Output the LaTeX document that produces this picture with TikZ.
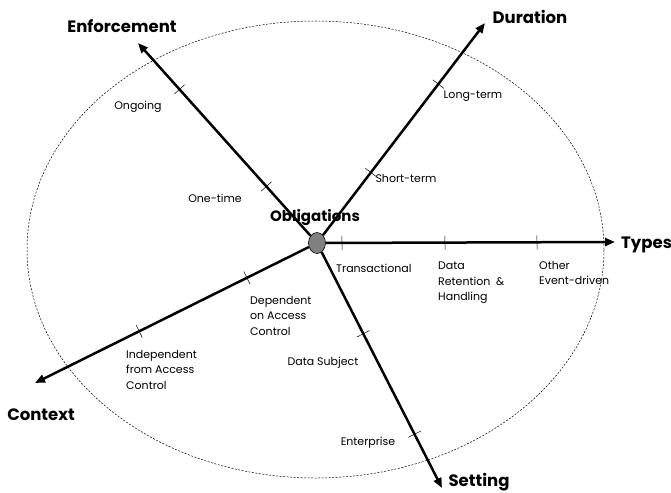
\documentclass[tikz,border=0pt]{standalone}
\usepackage{fontspec}
\setmainfont{Poppins}
\usetikzlibrary{shapes.geometric,arrows.meta,calc}
\begin{document}
\begin{tikzpicture}[x=1pt,y=-1pt,
  axis/.style={line width=2.5pt,-{Triangle[length=10pt,width=8pt]}},
  tickmark/.style={line width=0.5pt},
  lbl/.style={font=\fontsize{11}{15.5}\selectfont, inner sep=0pt, align=left},
  ttl/.style={font=\bfseries\fontsize{16.5}{18}\selectfont, inner sep=0pt}]
\useasboundingbox (0,0) rectangle (671,492);
\node[draw, ellipse, minimum width=577pt, minimum height=457pt, line width=0.5pt, dash pattern=on 2pt off 1.5pt, inner sep=0pt] (ring) at (315.5,249.5) {};
\node[draw, ellipse, fill=gray, minimum width=17pt, minimum height=21pt, inner sep=0pt, line width=0.6pt] (o) at (317,243) {};
\coordinate (types) at (615,242);
\coordinate (duration) at (485,23);
\coordinate (enforcement) at (138,43);
\coordinate (context) at (35,383);
\coordinate (setting) at (442,488);
\foreach \t in {types,duration,enforcement,context,setting}
  \draw[axis] (o) -- (\t);
% ticks
\foreach \t/\x/\y in {types/342/243, types/445/243, types/537/243,
  duration/433/80, duration/365/168,
  enforcement/181/88, enforcement/268/185,
  context/248/280, context/140/333,
  setting/357/337, setting/413/435}
{
  \path ($(o.center)!(\x,\y)!(\t)$) coordinate (tk);
  \draw[tickmark] ($(tk)!7pt!90:(\t)$) -- ($(tk)!7pt!-90:(\t)$);
}
% titles
\node[ttl, anchor=west] (ttypes) at (621,245) {Types};
\node[ttl] (tduration) at (530,17) {Duration};
\node[ttl] (tenforcement) at (122,26) {Enforcement};
\node[ttl] (tcontext) at (41,415) {Context};
\node[ttl] (tsetting) at (479,482) {Setting};
\node[ttl, font=\bfseries\fontsize{15}{17}\selectfont] (tobl) at (315,218) {Obligations};
% labels
\node[lbl] (ongoing) at (138,107) {Ongoing};
\node[lbl] (onetime) at (215,198) {One-time};
\node[lbl] (longterm) at (473,96) {Long-term};
\node[lbl] (shortterm) at (406,178) {Short-term};
\node[lbl, anchor=west] (trans) at (336,268) {Transactional};
\node[lbl, anchor=north west] (dataret) at (438,262) {Data\\Retention \ \&\\Handling};
\node[lbl, anchor=north west] (other) at (539,261) {Other\\Event-driven};
\node[lbl, anchor=north west] (dep) at (250,296) {Dependent\\on Access\\Control};
\node[lbl, anchor=north west] (indep) at (126,350) {Independent\\from Access\\Control};
\node[lbl] (datasubj) at (323,363) {Data Subject};
\node[lbl] (enterprise) at (368,443) {Enterprise};
\end{tikzpicture}
\end{document}
